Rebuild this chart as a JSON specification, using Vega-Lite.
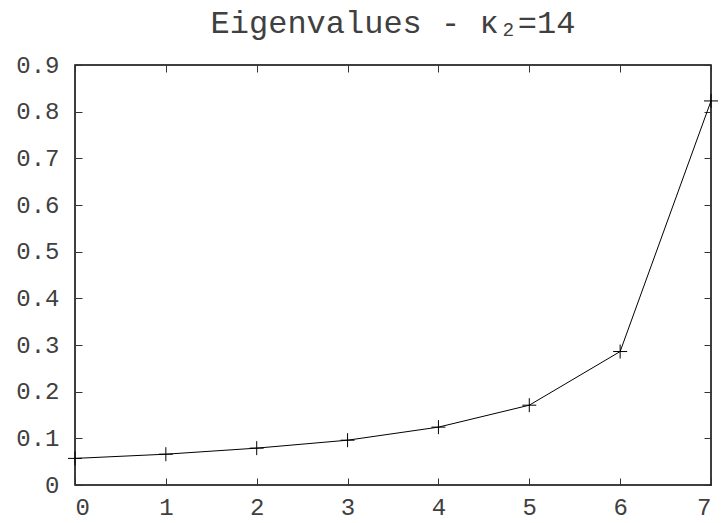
{
  "$schema": "https://vega.github.io/schema/vega-lite/v6.json",
  "autosize": {"type": "none"},
  "padding": {"left": 75, "top": 65, "right": 12, "bottom": 38},
  "width": 636,
  "height": 420,
  "background": "white",
  "title": {
    "text": "Eigenvalues - κ₂=14",
    "font": "Liberation Mono",
    "fontSize": 32,
    "fontWeight": "normal",
    "color": "#404040",
    "anchor": "middle",
    "offset": 13
  },
  "config": {
    "view": {"stroke": "black", "strokeWidth": 1.5},
    "axis": {
      "grid": false,
      "domain": false,
      "tickSize": -7,
      "tickColor": "#333",
      "tickWidth": 1,
      "labelFont": "Liberation Mono",
      "labelFontSize": 24,
      "labelColor": "#404040",
      "title": null
    }
  },
  "data": {
    "values": [
      {"k": 0, "v": 0.057},
      {"k": 1, "v": 0.066},
      {"k": 2, "v": 0.079},
      {"k": 3, "v": 0.096},
      {"k": 4, "v": 0.124},
      {"k": 5, "v": 0.171},
      {"k": 6, "v": 0.286},
      {"k": 7, "v": 0.823}
    ]
  },
  "layer": [
    {
      "mark": {"type": "line", "color": "black", "strokeWidth": 1, "clip": false},
      "encoding": {
        "x": {"field": "k", "type": "quantitative", "scale": {"domain": [0, 7], "nice": false},
              "axis": {"orient": "bottom", "values": [0,1,2,3,4,5,6,7], "labelPadding": 17, "labelDx": 7}},
        "y": {"field": "v", "type": "quantitative", "scale": {"domain": [0, 0.9], "nice": false},
              "axis": {"orient": "left", "values": [0,0.1,0.2,0.3,0.4,0.5,0.6,0.7,0.8,0.9], "format": ".1~f", "labelPadding": 23}}
      }
    },
    {
      "mark": {"type": "point", "shape": "M-1,0H1M0,-1V1", "size": 196, "filled": false, "color": "black", "strokeWidth": 1, "opacity": 1, "clip": false},
      "encoding": {
        "x": {"field": "k", "type": "quantitative",
              "axis": {"orient": "top", "values": [0,1,2,3,4,5,6,7], "labels": false}},
        "y": {"field": "v", "type": "quantitative",
              "axis": {"orient": "right", "values": [0,0.1,0.2,0.3,0.4,0.5,0.6,0.7,0.8,0.9], "labels": false}}
      }
    }
  ],
  "resolve": {"axis": {"x": "independent", "y": "independent"}}
}
